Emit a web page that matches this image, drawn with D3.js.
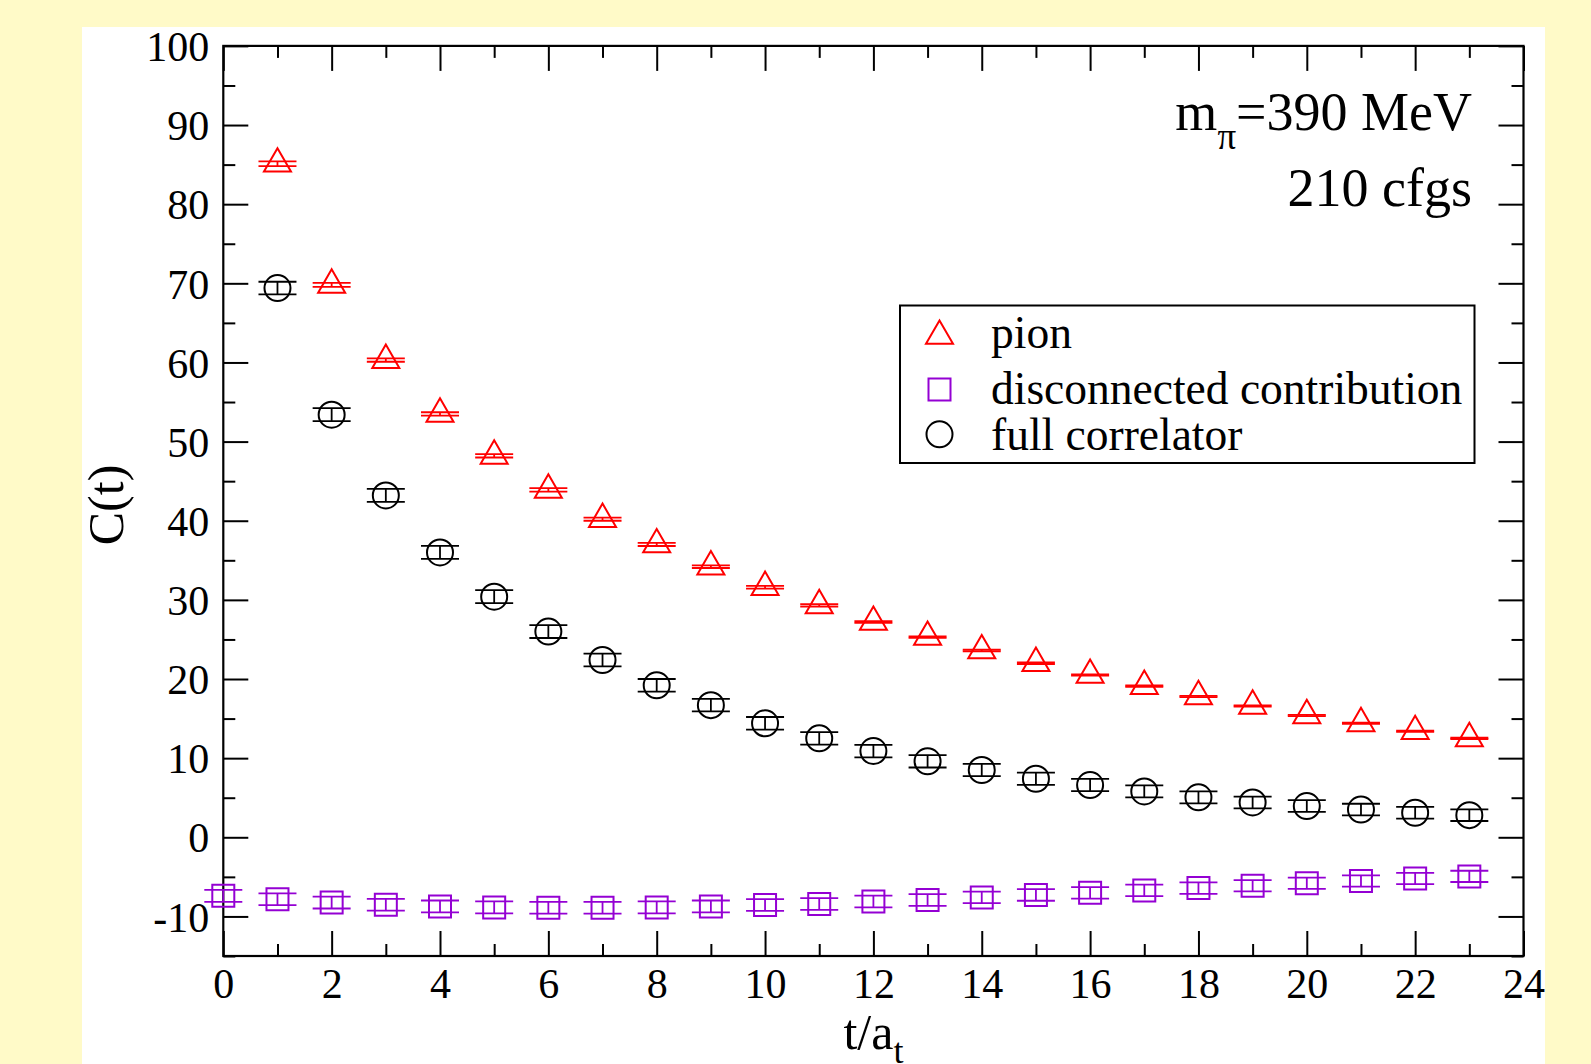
<!DOCTYPE html>
<html>
<head>
<meta charset="utf-8">
<script src="https://cdn.jsdelivr.net/npm/d3@7"></script>
<style>
  html, body { margin: 0; padding: 0; background: #fffac8; }
  svg { display: block; }
  text { font-family: "Liberation Serif", "Times New Roman", serif; fill: #000; }
</style>
</head>
<body>
<svg id="chart" width="1591" height="1064"></svg>
<script>
// ---------------- data ----------------
const tPion = [1,2,3,4,5,6,7,8,9,10,11,12,13,14,15,16,17,18,19,20,21,22,23];
const pion = [85.1,69.8,60.3,53.5,48.2,43.9,40.2,37.0,34.2,31.6,29.3,27.2,25.3,23.6,22.0,20.5,19.1,17.8,16.6,15.4,14.4,13.4,12.5];
const pionErr = [0.30,0.25,0.21,0.21,0.21,0.21,0.20,0.19,0.17,0.17,0.15,0.10,0.10,0.10,0.10,0.08,0.08,0.08,0.08,0.08,0.08,0.08,0.08];

const tFull = [1,2,3,4,5,6,7,8,9,10,11,12,13,14,15,16,17,18,19,20,21,22,23];
const full = [69.4,53.4,43.2,36.0,30.4,26.0,22.4,19.2,16.7,14.4,12.5,10.9,9.6,8.5,7.4,6.6,5.8,5.05,4.4,3.95,3.5,3.1,2.8];
const fullErr = [0.80,0.82,0.82,0.82,0.82,0.82,0.80,0.80,0.80,0.80,0.79,0.79,0.78,0.78,0.77,0.77,0.76,0.76,0.74,0.74,0.74,0.74,0.74];

const tDisc = [0,1,2,3,4,5,6,7,8,9,10,11,12,13,14,15,16,17,18,19,20,21,22,23];
const disc = [-7.40,-7.83,-8.25,-8.52,-8.74,-8.86,-8.90,-8.90,-8.86,-8.74,-8.55,-8.42,-8.12,-7.92,-7.60,-7.29,-7.02,-6.71,-6.42,-6.12,-5.81,-5.52,-5.21,-4.94];
const discErr = [0.75,0.75,0.75,0.75,0.75,0.75,0.75,0.75,0.75,0.75,0.74,0.74,0.74,0.74,0.73,0.73,0.73,0.72,0.72,0.72,0.71,0.71,0.71,0.71];

const xMajorTicks = [0,2,4,6,8,10,12,14,16,18,20,22,24];
const xMinorTicks = [1,3,5,7,9,11,13,15,17,19,21,23];
const yMajorTicks = [-10,0,10,20,30,40,50,60,70,80,90,100];
const yMinorTicks = [-15,-5,5,15,25,35,45,55,65,75,85,95];

const seriesNames = ["pion", "disconnected contribution", "full correlator"];
const seriesColors = ["#ff0000", "#9400d3", "#000000"];

// ---------------- layout ----------------
const svg = d3.select("#chart");
const L = 223.3, R = 1523.5, T = 45.9, B = 956;
const x = d3.scaleLinear().domain([0, 24]).range([L, R]);
const y = d3.scaleLinear().domain([-15, 100]).range([B, T]);

svg.append("rect").attr("x", 0).attr("y", 0).attr("width", 1591).attr("height", 1064).attr("fill", "#fffac8");
svg.append("rect").attr("x", 82).attr("y", 27).attr("width", 1463).attr("height", 1037).attr("fill", "#ffffff");

const MAJ = 25, MIN = 12, FS = 42;

function styleAxis(g) {
  g.select(".domain").remove();
  g.selectAll(".tick line").attr("stroke", "#000").attr("stroke-width", 2);
  g.selectAll(".tick text").attr("font-size", FS).attr("font-family", "Liberation Serif").attr("fill", "#000");
}

// bottom
svg.append("g").attr("transform", `translate(0,${B})`)
  .call(d3.axisBottom(x).tickValues(xMajorTicks).tickSize(-MAJ).tickSizeOuter(0).tickPadding(12).tickFormat(d3.format("d")))
  .call(styleAxis);
svg.append("g").attr("transform", `translate(0,${B})`)
  .call(d3.axisBottom(x).tickValues(xMinorTicks).tickSize(-MIN).tickSizeOuter(0).tickFormat(""))
  .call(styleAxis);
// top
svg.append("g").attr("transform", `translate(0,${T})`)
  .call(d3.axisTop(x).tickValues(xMajorTicks).tickSize(-MAJ).tickSizeOuter(0).tickFormat(""))
  .call(styleAxis);
svg.append("g").attr("transform", `translate(0,${T})`)
  .call(d3.axisTop(x).tickValues(xMinorTicks).tickSize(-MIN).tickSizeOuter(0).tickFormat(""))
  .call(styleAxis);
// left
const gl = svg.append("g").attr("transform", `translate(${L},0)`)
  .call(d3.axisLeft(y).tickValues(yMajorTicks).tickSize(-MAJ).tickSizeOuter(0).tickPadding(14).tickFormat(d => String(d)))
  .call(styleAxis);
gl.selectAll(".tick text").attr("dy", "0.35em");
svg.append("g").attr("transform", `translate(${L},0)`)
  .call(d3.axisLeft(y).tickValues(yMinorTicks).tickSize(-MIN).tickSizeOuter(0).tickFormat(""))
  .call(styleAxis);
// right
svg.append("g").attr("transform", `translate(${R},0)`)
  .call(d3.axisRight(y).tickValues(yMajorTicks).tickSize(-MAJ).tickSizeOuter(0).tickFormat(""))
  .call(styleAxis);
svg.append("g").attr("transform", `translate(${R},0)`)
  .call(d3.axisRight(y).tickValues(yMinorTicks).tickSize(-MIN).tickSizeOuter(0).tickFormat(""))
  .call(styleAxis);

// frame
svg.append("rect").attr("x", L).attr("y", T).attr("width", R - L).attr("height", B - T)
  .attr("fill", "none").attr("stroke", "#000").attr("stroke-width", 2.2);

// ---------------- series ----------------
const CAP = 19;
function drawSeries(ts, vals, errs, color, symType, symSize) {
  const data = ts.map((t, i) => ({t, v: vals[i], e: errs[i]}));
  const g = svg.append("g");
  const eb = g.selectAll("g.eb").data(data).enter().append("g");
  eb.append("line")
    .attr("x1", d => x(d.t)).attr("x2", d => x(d.t))
    .attr("y1", d => y(d.v - d.e)).attr("y2", d => y(d.v + d.e))
    .attr("stroke", color).attr("stroke-width", 1.8);
  eb.append("line")
    .attr("x1", d => x(d.t) - CAP).attr("x2", d => x(d.t) + CAP)
    .attr("y1", d => y(d.v + d.e)).attr("y2", d => y(d.v + d.e))
    .attr("stroke", color).attr("stroke-width", 1.8);
  eb.append("line")
    .attr("x1", d => x(d.t) - CAP).attr("x2", d => x(d.t) + CAP)
    .attr("y1", d => y(d.v - d.e)).attr("y2", d => y(d.v - d.e))
    .attr("stroke", color).attr("stroke-width", 1.8);
  g.selectAll("path.sym").data(data).enter().append("path")
    .attr("d", d3.symbol().type(symType).size(symSize))
    .attr("transform", d => `translate(${x(d.t)},${y(d.v)})`)
    .attr("fill", "none").attr("stroke", color).attr("stroke-width", 2);
}

const symTypes = [d3.symbolTriangle, d3.symbolSquare, d3.symbolCircle];
const symSizes = [316, 484, 531];

drawSeries(tDisc, disc, discErr, seriesColors[1], symTypes[1], symSizes[1]);
drawSeries(tFull, full, fullErr, seriesColors[2], symTypes[2], symSizes[2]);
drawSeries(tPion, pion, pionErr, seriesColors[0], symTypes[0], symSizes[0]);

// ---------------- legend ----------------
svg.append("rect").attr("x", 900).attr("y", 305.5).attr("width", 574.5).attr("height", 157.5)
  .attr("fill", "#fff").attr("stroke", "#000").attr("stroke-width", 2);
const legSymY = [336, 389.6, 434.3];
const legTextY = [348, 404, 449.5];
seriesNames.forEach((name, i) => {
  svg.append("path")
    .attr("d", d3.symbol().type(symTypes[i]).size(symSizes[i]))
    .attr("transform", `translate(939.5,${legSymY[i]})`)
    .attr("fill", "none").attr("stroke", seriesColors[i]).attr("stroke-width", 2);
  svg.append("text").attr("x", 991).attr("y", legTextY[i]).attr("font-size", 45.5).text(name);
});

// ---------------- annotations ----------------
const ann = svg.append("text").attr("x", 1472).attr("y", 130).attr("font-size", 54).attr("text-anchor", "end");
ann.append("tspan").text("m");
ann.append("tspan").attr("dy", 19).attr("font-size", 37).text("π");
ann.append("tspan").attr("dy", -19).text("=390 MeV");
svg.append("text").attr("x", 1472).attr("y", 206).attr("font-size", 54).attr("text-anchor", "end").text("210 cfgs");

// axis labels
const xl = svg.append("text").attr("x", (L + R) / 2).attr("y", 1049).attr("font-size", 50).attr("text-anchor", "middle");
xl.append("tspan").text("t/a");
xl.append("tspan").attr("dy", 14).attr("font-size", 36).text("t");

svg.append("text").attr("transform", "translate(123,505) rotate(-90)")
  .attr("font-size", 50).attr("text-anchor", "middle").text("C(t)");
</script>
</body>
</html>
